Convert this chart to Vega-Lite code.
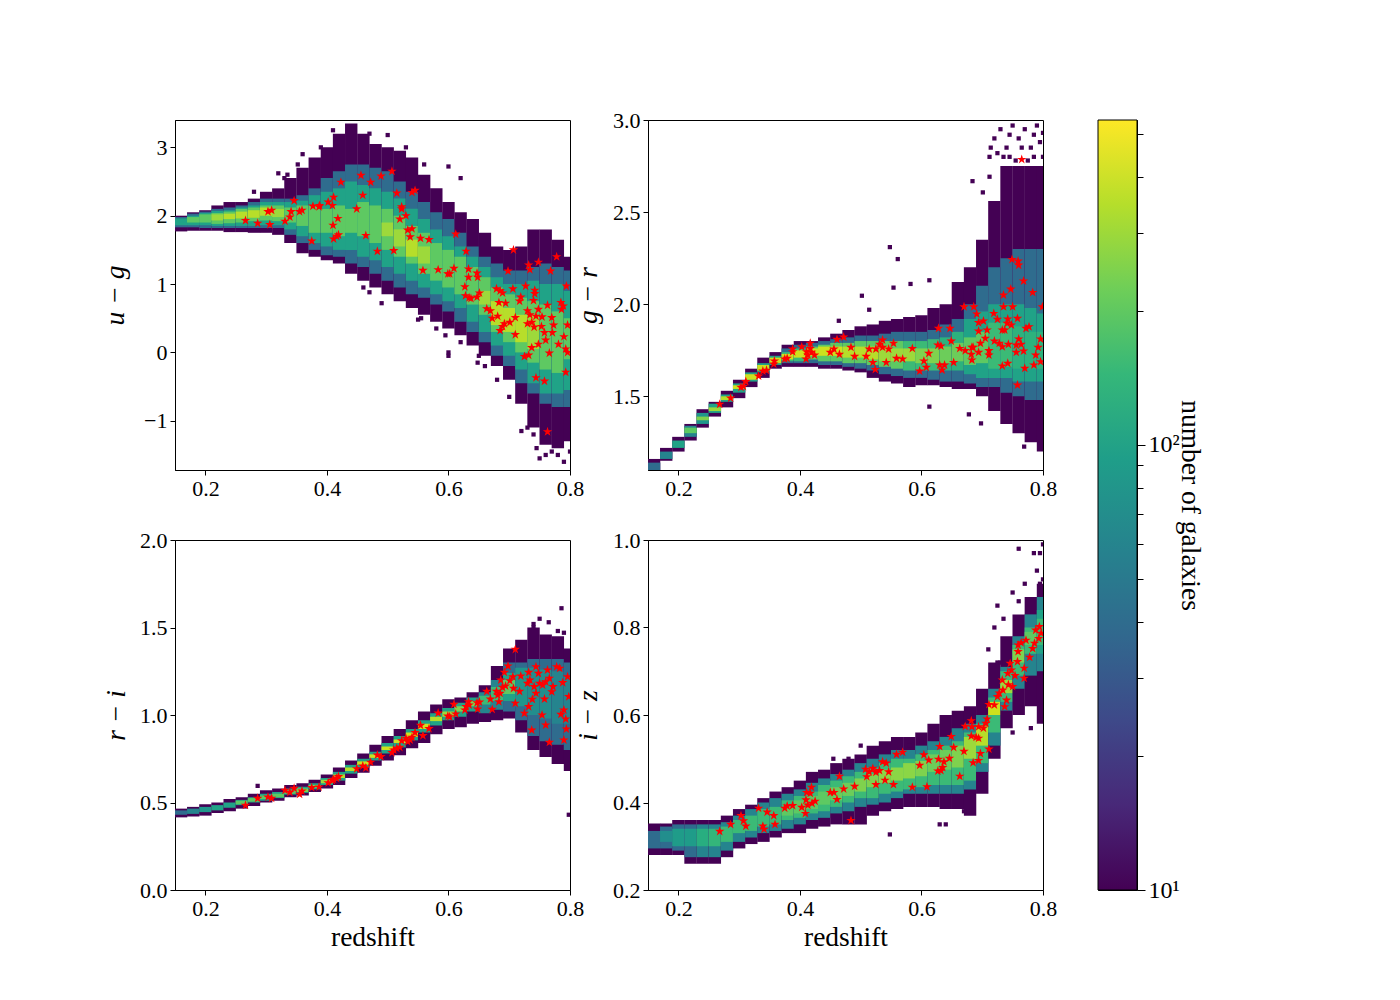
{"$schema":"https://vega.github.io/schema/vega-lite/v6.json","background":"white","padding":{"left":101,"top":108,"right":0,"bottom":0},
"config":{"font":"Liberation Serif","view":{"stroke":"black","strokeWidth":1},"axisX":{"labelFlush":false},"axis":{"grid":false,"domainColor":"black","tickColor":"black","labelColor":"black","titleColor":"black","labelFontSize":22,"titleFontSize":27.5,"titleFontWeight":"normal","tickSize":5,"labelPadding":3}},
"datasets":{
"ugd":[
{"z":0.16,"l":1.77,"h":2.0,"n":10},{"z":0.16,"l":1.83,"h":1.98,"n":40},{"z":0.16,"l":1.86,"h":1.96,"n":100},
{"z":0.18,"l":1.78,"h":2.05,"n":10},{"z":0.18,"l":1.83,"h":2.03,"n":40},{"z":0.18,"l":1.86,"h":2.0,"n":100},{"z":0.18,"l":1.9,"h":1.98,"n":200},
{"z":0.2,"l":1.78,"h":2.08,"n":10},{"z":0.2,"l":1.82,"h":2.06,"n":40},{"z":0.2,"l":1.86,"h":2.04,"n":100},{"z":0.2,"l":1.9,"h":2.02,"n":200},
{"z":0.22,"l":1.78,"h":2.15,"n":10},{"z":0.22,"l":1.82,"h":2.1,"n":40},{"z":0.22,"l":1.85,"h":2.07,"n":100},{"z":0.22,"l":1.88,"h":2.04,"n":200},{"z":0.22,"l":1.93,"h":2.02,"n":300},
{"z":0.24,"l":1.76,"h":2.2,"n":10},{"z":0.24,"l":1.82,"h":2.12,"n":40},{"z":0.24,"l":1.85,"h":2.08,"n":100},{"z":0.24,"l":1.89,"h":2.06,"n":200},{"z":0.24,"l":1.95,"h":2.03,"n":350},
{"z":0.26,"l":1.76,"h":2.2,"n":10},{"z":0.26,"l":1.82,"h":2.15,"n":40},{"z":0.26,"l":1.85,"h":2.12,"n":100},{"z":0.26,"l":1.9,"h":2.1,"n":200},{"z":0.26,"l":1.96,"h":2.06,"n":350},
{"z":0.28,"l":1.75,"h":2.25,"n":10},{"z":0.28,"l":1.82,"h":2.2,"n":40},{"z":0.28,"l":1.85,"h":2.15,"n":100},{"z":0.28,"l":1.92,"h":2.12,"n":200},{"z":0.28,"l":1.97,"h":2.08,"n":350},
{"z":0.3,"l":1.75,"h":2.35,"n":10},{"z":0.3,"l":1.82,"h":2.25,"n":40},{"z":0.3,"l":1.86,"h":2.2,"n":100},{"z":0.3,"l":1.93,"h":2.15,"n":200},{"z":0.3,"l":2.0,"h":2.12,"n":350},
{"z":0.32,"l":1.72,"h":2.4,"n":10},{"z":0.32,"l":1.82,"h":2.25,"n":40},{"z":0.32,"l":1.86,"h":2.2,"n":100},{"z":0.32,"l":1.92,"h":2.15,"n":200},{"z":0.32,"l":1.98,"h":2.1,"n":300},
{"z":0.34,"l":1.6,"h":2.55,"n":10},{"z":0.34,"l":1.72,"h":2.25,"n":40},{"z":0.34,"l":1.8,"h":2.2,"n":100},{"z":0.34,"l":1.9,"h":2.12,"n":200},
{"z":0.36,"l":1.45,"h":2.7,"n":10},{"z":0.36,"l":1.6,"h":2.3,"n":40},{"z":0.36,"l":1.7,"h":2.22,"n":100},{"z":0.36,"l":1.85,"h":2.15,"n":200},
{"z":0.38,"l":1.4,"h":2.85,"n":10},{"z":0.38,"l":1.5,"h":2.4,"n":40},{"z":0.38,"l":1.6,"h":2.3,"n":100},{"z":0.38,"l":1.75,"h":2.15,"n":200},
{"z":0.4,"l":1.35,"h":3.0,"n":10},{"z":0.4,"l":1.42,"h":2.55,"n":40},{"z":0.4,"l":1.55,"h":2.35,"n":100},{"z":0.4,"l":1.75,"h":2.1,"n":200},
{"z":0.42,"l":1.3,"h":3.2,"n":10},{"z":0.42,"l":1.4,"h":2.65,"n":40},{"z":0.42,"l":1.5,"h":2.4,"n":100},{"z":0.42,"l":1.7,"h":2.15,"n":200},
{"z":0.44,"l":1.15,"h":3.35,"n":10},{"z":0.44,"l":1.3,"h":2.75,"n":40},{"z":0.44,"l":1.5,"h":2.5,"n":100},{"z":0.44,"l":1.75,"h":2.1,"n":200},
{"z":0.46,"l":1.05,"h":3.2,"n":10},{"z":0.46,"l":1.25,"h":2.75,"n":40},{"z":0.46,"l":1.4,"h":2.45,"n":100},{"z":0.46,"l":1.7,"h":2.2,"n":200},
{"z":0.48,"l":0.95,"h":3.05,"n":10},{"z":0.48,"l":1.15,"h":2.7,"n":40},{"z":0.48,"l":1.35,"h":2.4,"n":100},{"z":0.48,"l":1.6,"h":2.15,"n":200},
{"z":0.5,"l":0.85,"h":3.0,"n":10},{"z":0.5,"l":1.05,"h":2.65,"n":40},{"z":0.5,"l":1.25,"h":2.35,"n":100},{"z":0.5,"l":1.5,"h":2.1,"n":200},{"z":0.5,"l":1.7,"h":1.9,"n":300},
{"z":0.52,"l":0.75,"h":2.95,"n":10},{"z":0.52,"l":0.95,"h":2.5,"n":40},{"z":0.52,"l":1.15,"h":2.25,"n":100},{"z":0.52,"l":1.4,"h":2.0,"n":200},{"z":0.52,"l":1.55,"h":1.8,"n":300},
{"z":0.54,"l":0.65,"h":2.85,"n":10},{"z":0.54,"l":0.85,"h":2.35,"n":40},{"z":0.54,"l":1.05,"h":2.1,"n":100},{"z":0.54,"l":1.3,"h":1.85,"n":200},{"z":0.54,"l":1.4,"h":1.65,"n":350},
{"z":0.56,"l":0.55,"h":2.6,"n":10},{"z":0.56,"l":0.8,"h":2.2,"n":40},{"z":0.56,"l":0.95,"h":1.95,"n":100},{"z":0.56,"l":1.15,"h":1.75,"n":200},{"z":0.56,"l":1.3,"h":1.55,"n":300},
{"z":0.58,"l":0.45,"h":2.4,"n":10},{"z":0.58,"l":0.7,"h":2.05,"n":40},{"z":0.58,"l":0.85,"h":1.8,"n":100},{"z":0.58,"l":1.05,"h":1.6,"n":200},
{"z":0.6,"l":0.35,"h":2.2,"n":10},{"z":0.6,"l":0.6,"h":1.95,"n":40},{"z":0.6,"l":0.75,"h":1.7,"n":100},{"z":0.6,"l":0.95,"h":1.5,"n":200},
{"z":0.62,"l":0.25,"h":2.05,"n":10},{"z":0.62,"l":0.45,"h":1.75,"n":40},{"z":0.62,"l":0.65,"h":1.55,"n":100},{"z":0.62,"l":0.85,"h":1.4,"n":200},
{"z":0.64,"l":0.1,"h":1.95,"n":10},{"z":0.64,"l":0.3,"h":1.55,"n":40},{"z":0.64,"l":0.45,"h":1.4,"n":100},{"z":0.64,"l":0.7,"h":1.25,"n":200},
{"z":0.66,"l":-0.05,"h":1.75,"n":10},{"z":0.66,"l":0.15,"h":1.4,"n":40},{"z":0.66,"l":0.3,"h":1.25,"n":100},{"z":0.66,"l":0.55,"h":1.1,"n":200},{"z":0.66,"l":0.7,"h":0.9,"n":300},
{"z":0.68,"l":-0.2,"h":1.55,"n":10},{"z":0.68,"l":-0.05,"h":1.3,"n":40},{"z":0.68,"l":0.1,"h":1.1,"n":100},{"z":0.68,"l":0.3,"h":0.95,"n":200},{"z":0.68,"l":0.4,"h":0.75,"n":350},
{"z":0.7,"l":-0.4,"h":1.5,"n":10},{"z":0.7,"l":-0.2,"h":1.2,"n":40},{"z":0.7,"l":-0.05,"h":1.0,"n":100},{"z":0.7,"l":0.15,"h":0.85,"n":200},{"z":0.7,"l":0.3,"h":0.65,"n":350},
{"z":0.72,"l":-0.75,"h":1.55,"n":10},{"z":0.72,"l":-0.45,"h":1.2,"n":40},{"z":0.72,"l":-0.25,"h":1.0,"n":100},{"z":0.72,"l":0.0,"h":0.8,"n":200},{"z":0.72,"l":0.15,"h":0.55,"n":350},
{"z":0.74,"l":-1.1,"h":1.8,"n":10},{"z":0.74,"l":-0.6,"h":1.25,"n":40},{"z":0.74,"l":-0.45,"h":1.05,"n":100},{"z":0.74,"l":-0.15,"h":0.75,"n":200},{"z":0.74,"l":0.05,"h":0.55,"n":300},
{"z":0.76,"l":-1.35,"h":1.8,"n":10},{"z":0.76,"l":-0.75,"h":1.3,"n":40},{"z":0.76,"l":-0.6,"h":1.0,"n":100},{"z":0.76,"l":-0.25,"h":0.7,"n":200},
{"z":0.78,"l":-1.4,"h":1.65,"n":10},{"z":0.78,"l":-0.8,"h":1.25,"n":40},{"z":0.78,"l":-0.6,"h":1.0,"n":100},{"z":0.78,"l":-0.3,"h":0.6,"n":200},
{"z":0.8,"l":-1.3,"h":1.4,"n":10},{"z":0.8,"l":-0.8,"h":1.2,"n":40},{"z":0.8,"l":-0.55,"h":0.9,"n":100},{"z":0.8,"l":-0.1,"h":0.5,"n":200}],
"ugs":[{"z":0.36,"c":2.9},{"z":0.352,"c":2.75},{"z":0.33,"c":2.55},{"z":0.32,"c":2.62},{"z":0.28,"c":2.35},{"z":0.335,"c":2.6},{"z":0.39,"c":3.0},{"z":0.41,"c":3.25},{"z":0.47,"c":3.2},{"z":0.5,"c":3.18},{"z":0.53,"c":3.0},{"z":0.56,"c":2.75},{"z":0.6,"c":2.72},{"z":0.62,"c":2.55},{"z":0.46,"c":0.95},{"z":0.47,"c":0.88},{"z":0.49,"c":0.72},{"z":0.55,"c":0.48},{"z":0.555,"c":0.5},{"z":0.58,"c":0.35},{"z":0.595,"c":0.25},{"z":0.62,"c":0.15},{"z":0.65,"c":-0.05},{"z":0.648,"c":-0.15},{"z":0.6,"c":0.0},{"z":0.6,"c":-0.05},{"z":0.68,"c":-0.4},{"z":0.74,"c":-1.2},{"z":0.745,"c":-1.4},{"z":0.76,"c":-1.5},{"z":0.78,"c":-1.5},{"z":0.8,"c":-1.45},{"z":0.79,"c":-1.6},{"z":0.75,"c":-1.55},{"z":0.77,"c":-1.45},{"z":0.66,"c":-0.2},{"z":0.7,"c":-0.65},{"z":0.73,"c":-1.1},{"z":0.72,"c":-1.15}],
"ugp":[{"z":0.266,"c":1.93},{"z":0.286,"c":1.89},{"z":0.306,"c":1.87},{"z":0.303,"c":2.06},{"z":0.309,"c":2.08},{"z":0.331,"c":1.92},{"z":0.339,"c":1.98},{"z":0.341,"c":2.06},{"z":0.346,"c":2.22},{"z":0.355,"c":2.06},{"z":0.359,"c":2.08},{"z":0.375,"c":1.63},{"z":0.377,"c":2.14},{"z":0.387,"c":2.13},{"z":0.388,"c":2.15},{"z":0.402,"c":2.2},{"z":0.409,"c":2.15},{"z":0.411,"c":2.27},{"z":0.41,"c":1.86},{"z":0.418,"c":1.96},{"z":0.411,"c":1.66},{"z":0.416,"c":1.7},{"z":0.419,"c":1.72},{"z":0.423,"c":2.49},{"z":0.449,"c":2.1},{"z":0.456,"c":2.59},{"z":0.459,"c":2.3},{"z":0.464,"c":1.71},{"z":0.472,"c":2.49},{"z":0.483,"c":1.48},{"z":0.489,"c":2.58},{"z":0.507,"c":2.65},{"z":0.51,"c":1.49},{"z":0.515,"c":2.33},{"z":0.52,"c":1.95},{"z":0.523,"c":2.13},{"z":0.523,"c":2.1},{"z":0.53,"c":2.0},{"z":0.533,"c":1.79},{"z":0.54,"c":1.81},{"z":0.537,"c":1.69},{"z":0.54,"c":2.34},{"z":0.545,"c":2.37},{"z":0.554,"c":1.67},{"z":0.568,"c":1.65},{"z":0.558,"c":1.2},{"z":0.583,"c":1.21},{"z":0.599,"c":1.15},{"z":0.602,"c":1.15},{"z":0.609,"c":1.23},{"z":0.612,"c":1.73},{"z":0.629,"c":1.48},{"z":0.633,"c":1.22},{"z":0.633,"c":1.1},{"z":0.647,"c":1.16},{"z":0.648,"c":1.1},{"z":0.627,"c":0.96},{"z":0.628,"c":0.83},{"z":0.634,"c":0.8},{"z":0.637,"c":0.79},{"z":0.647,"c":0.81},{"z":0.651,"c":0.87},{"z":0.663,"c":0.64},{"z":0.669,"c":0.61},{"z":0.672,"c":0.5},{"z":0.679,"c":0.93},{"z":0.685,"c":0.9},{"z":0.689,"c":0.87},{"z":0.683,"c":0.73},{"z":0.694,"c":0.72},{"z":0.681,"c":0.53},{"z":0.706,"c":0.93},{"z":0.698,"c":1.19},{"z":0.707,"c":1.5},{"z":0.732,"c":1.28},{"z":0.734,"c":1.21},{"z":0.748,"c":1.32},{"z":0.768,"c":1.19},{"z":0.778,"c":1.4},{"z":0.794,"c":0.97},{"z":0.727,"c":0.97},{"z":0.742,"c":0.91},{"z":0.742,"c":0.86},{"z":0.74,"c":0.76},{"z":0.719,"c":0.81},{"z":0.717,"c":0.75},{"z":0.763,"c":0.69},{"z":0.785,"c":0.73},{"z":0.789,"c":0.68},{"z":0.786,"c":0.63},{"z":0.73,"c":0.61},{"z":0.748,"c":0.63},{"z":0.734,"c":0.55},{"z":0.744,"c":0.53},{"z":0.754,"c":0.52},{"z":0.77,"c":0.51},{"z":0.71,"c":0.51},{"z":0.701,"c":0.44},{"z":0.692,"c":0.42},{"z":0.689,"c":0.38},{"z":0.685,"c":0.32},{"z":0.73,"c":0.42},{"z":0.737,"c":0.44},{"z":0.741,"c":0.37},{"z":0.753,"c":0.38},{"z":0.773,"c":0.4},{"z":0.796,"c":0.4},{"z":0.71,"c":0.26},{"z":0.758,"c":0.29},{"z":0.771,"c":0.29},{"z":0.79,"c":0.23},{"z":0.76,"c":0.18},{"z":0.737,"c":0.07},{"z":0.748,"c":0.12},{"z":0.781,"c":0.12},{"z":0.793,"c":0.05},{"z":0.796,"c":0.0},{"z":0.766,"c":-0.01},{"z":0.725,"c":-0.06},{"z":0.732,"c":-0.04},{"z":0.744,"c":-0.37},{"z":0.758,"c":-0.42},{"z":0.793,"c":-0.29},{"z":0.763,"c":-1.16}],
"grd":[
{"z":0.16,"l":1.09,"h":1.16,"n":10},{"z":0.16,"l":1.1,"h":1.14,"n":40},
{"z":0.18,"l":1.15,"h":1.22,"n":10},{"z":0.18,"l":1.16,"h":1.2,"n":60},
{"z":0.2,"l":1.2,"h":1.28,"n":10},{"z":0.2,"l":1.22,"h":1.26,"n":100},
{"z":0.22,"l":1.26,"h":1.35,"n":10},{"z":0.22,"l":1.28,"h":1.34,"n":60},{"z":0.22,"l":1.3,"h":1.33,"n":200},
{"z":0.24,"l":1.33,"h":1.43,"n":10},{"z":0.24,"l":1.35,"h":1.41,"n":80},{"z":0.24,"l":1.37,"h":1.39,"n":250},
{"z":0.26,"l":1.39,"h":1.47,"n":10},{"z":0.26,"l":1.41,"h":1.46,"n":100},{"z":0.26,"l":1.42,"h":1.44,"n":300},
{"z":0.28,"l":1.44,"h":1.53,"n":10},{"z":0.28,"l":1.47,"h":1.51,"n":100},{"z":0.28,"l":1.48,"h":1.5,"n":350},
{"z":0.3,"l":1.49,"h":1.59,"n":10},{"z":0.3,"l":1.52,"h":1.57,"n":100},{"z":0.3,"l":1.54,"h":1.56,"n":400},
{"z":0.32,"l":1.55,"h":1.65,"n":10},{"z":0.32,"l":1.58,"h":1.63,"n":100},{"z":0.32,"l":1.59,"h":1.62,"n":400},
{"z":0.34,"l":1.6,"h":1.71,"n":10},{"z":0.34,"l":1.63,"h":1.68,"n":100},{"z":0.34,"l":1.64,"h":1.67,"n":400},
{"z":0.36,"l":1.65,"h":1.74,"n":10},{"z":0.36,"l":1.67,"h":1.72,"n":100},{"z":0.36,"l":1.68,"h":1.71,"n":400},
{"z":0.38,"l":1.66,"h":1.78,"n":10},{"z":0.38,"l":1.68,"h":1.76,"n":40},{"z":0.38,"l":1.69,"h":1.74,"n":150},{"z":0.38,"l":1.7,"h":1.73,"n":400},
{"z":0.4,"l":1.66,"h":1.8,"n":10},{"z":0.4,"l":1.68,"h":1.78,"n":40},{"z":0.4,"l":1.69,"h":1.76,"n":150},{"z":0.4,"l":1.71,"h":1.75,"n":400},
{"z":0.42,"l":1.66,"h":1.8,"n":10},{"z":0.42,"l":1.68,"h":1.79,"n":40},{"z":0.42,"l":1.7,"h":1.77,"n":200},{"z":0.42,"l":1.72,"h":1.76,"n":400},
{"z":0.44,"l":1.65,"h":1.82,"n":10},{"z":0.44,"l":1.67,"h":1.8,"n":40},{"z":0.44,"l":1.69,"h":1.78,"n":200},{"z":0.44,"l":1.72,"h":1.77,"n":400},
{"z":0.46,"l":1.65,"h":1.84,"n":10},{"z":0.46,"l":1.67,"h":1.81,"n":40},{"z":0.46,"l":1.69,"h":1.79,"n":200},{"z":0.46,"l":1.72,"h":1.77,"n":400},
{"z":0.48,"l":1.64,"h":1.86,"n":10},{"z":0.48,"l":1.66,"h":1.82,"n":40},{"z":0.48,"l":1.68,"h":1.79,"n":200},{"z":0.48,"l":1.71,"h":1.77,"n":350},
{"z":0.5,"l":1.63,"h":1.88,"n":10},{"z":0.5,"l":1.65,"h":1.83,"n":40},{"z":0.5,"l":1.68,"h":1.8,"n":200},{"z":0.5,"l":1.71,"h":1.77,"n":350},
{"z":0.52,"l":1.6,"h":1.89,"n":10},{"z":0.52,"l":1.64,"h":1.83,"n":40},{"z":0.52,"l":1.67,"h":1.8,"n":200},{"z":0.52,"l":1.7,"h":1.77,"n":350},
{"z":0.54,"l":1.58,"h":1.91,"n":10},{"z":0.54,"l":1.62,"h":1.84,"n":40},{"z":0.54,"l":1.66,"h":1.8,"n":200},{"z":0.54,"l":1.69,"h":1.77,"n":300},
{"z":0.56,"l":1.57,"h":1.92,"n":10},{"z":0.56,"l":1.61,"h":1.85,"n":40},{"z":0.56,"l":1.65,"h":1.8,"n":200},{"z":0.56,"l":1.69,"h":1.76,"n":300},
{"z":0.58,"l":1.55,"h":1.93,"n":10},{"z":0.58,"l":1.6,"h":1.85,"n":40},{"z":0.58,"l":1.64,"h":1.8,"n":150},{"z":0.58,"l":1.69,"h":1.76,"n":300},
{"z":0.6,"l":1.56,"h":1.94,"n":10},{"z":0.6,"l":1.6,"h":1.85,"n":40},{"z":0.6,"l":1.64,"h":1.8,"n":150},{"z":0.6,"l":1.68,"h":1.76,"n":250},
{"z":0.62,"l":1.56,"h":1.98,"n":10},{"z":0.62,"l":1.59,"h":1.86,"n":40},{"z":0.62,"l":1.64,"h":1.81,"n":150},{"z":0.62,"l":1.68,"h":1.76,"n":250},
{"z":0.64,"l":1.55,"h":2.0,"n":10},{"z":0.64,"l":1.58,"h":1.89,"n":40},{"z":0.64,"l":1.64,"h":1.82,"n":130},{"z":0.64,"l":1.68,"h":1.77,"n":220},
{"z":0.66,"l":1.54,"h":2.12,"n":10},{"z":0.66,"l":1.58,"h":1.92,"n":40},{"z":0.66,"l":1.64,"h":1.85,"n":130},{"z":0.66,"l":1.69,"h":1.79,"n":220},
{"z":0.68,"l":1.54,"h":2.2,"n":10},{"z":0.68,"l":1.57,"h":2.0,"n":40},{"z":0.68,"l":1.62,"h":1.92,"n":100},{"z":0.68,"l":1.67,"h":1.82,"n":200},
{"z":0.7,"l":1.5,"h":2.35,"n":10},{"z":0.7,"l":1.55,"h":2.1,"n":40},{"z":0.7,"l":1.6,"h":1.96,"n":100},{"z":0.7,"l":1.68,"h":1.85,"n":200},
{"z":0.72,"l":1.42,"h":2.56,"n":10},{"z":0.72,"l":1.55,"h":2.2,"n":40},{"z":0.72,"l":1.6,"h":2.0,"n":100},{"z":0.72,"l":1.65,"h":1.9,"n":150},
{"z":0.74,"l":1.35,"h":2.75,"n":10},{"z":0.74,"l":1.52,"h":2.25,"n":40},{"z":0.74,"l":1.6,"h":2.0,"n":100},{"z":0.74,"l":1.66,"h":1.9,"n":150},
{"z":0.76,"l":1.3,"h":2.75,"n":10},{"z":0.76,"l":1.5,"h":2.3,"n":40},{"z":0.76,"l":1.58,"h":2.0,"n":100},{"z":0.76,"l":1.65,"h":1.88,"n":130},
{"z":0.78,"l":1.25,"h":2.75,"n":10},{"z":0.78,"l":1.48,"h":2.3,"n":40},{"z":0.78,"l":1.58,"h":1.98,"n":100},{"z":0.78,"l":1.65,"h":1.85,"n":130},
{"z":0.8,"l":1.2,"h":2.75,"n":10},{"z":0.8,"l":1.48,"h":2.3,"n":40},{"z":0.8,"l":1.58,"h":1.95,"n":100},{"z":0.8,"l":1.65,"h":1.85,"n":130}],
"grs":[{"z":0.548,"c":2.31},{"z":0.561,"c":2.245},{"z":0.502,"c":2.046},{"z":0.554,"c":2.09},{"z":0.582,"c":2.11},{"z":0.613,"c":2.13},{"z":0.464,"c":1.91},{"z":0.514,"c":1.97},{"z":0.613,"c":1.444},{"z":0.698,"c":1.353},{"z":0.678,"c":1.402},{"z":0.769,"c":1.227},{"z":0.684,"c":2.668},{"z":0.712,"c":2.692},{"z":0.701,"c":2.607},{"z":0.714,"c":2.85},{"z":0.72,"c":2.9},{"z":0.73,"c":2.95},{"z":0.74,"c":2.85},{"z":0.75,"c":2.97},{"z":0.76,"c":2.9},{"z":0.77,"c":2.95},{"z":0.78,"c":2.85},{"z":0.79,"c":2.97},{"z":0.795,"c":2.88},{"z":0.735,"c":2.8},{"z":0.745,"c":2.8},{"z":0.755,"c":2.78},{"z":0.775,"c":2.78},{"z":0.785,"c":2.92},{"z":0.725,"c":2.82},{"z":0.8,"c":2.93},{"z":0.765,"c":2.85},{"z":0.712,"c":2.8},{"z":0.745,"c":2.92},{"z":0.785,"c":2.8},{"z":0.8,"c":2.8}],
"grp":[{"z":0.268,"c":1.457},{"z":0.286,"c":1.49},{"z":0.303,"c":1.549},{"z":0.307,"c":1.554},{"z":0.311,"c":1.58},{"z":0.332,"c":1.61},{"z":0.339,"c":1.637},{"z":0.345,"c":1.641},{"z":0.357,"c":1.675},{"z":0.358,"c":1.692},{"z":0.375,"c":1.703},{"z":0.379,"c":1.706},{"z":0.388,"c":1.742},{"z":0.388,"c":1.757},{"z":0.403,"c":1.769},{"z":0.41,"c":1.703},{"z":0.411,"c":1.742},{"z":0.417,"c":1.788},{"z":0.417,"c":1.76},{"z":0.413,"c":1.724},{"z":0.419,"c":1.739},{"z":0.424,"c":1.724},{"z":0.45,"c":1.739},{"z":0.456,"c":1.757},{"z":0.461,"c":1.809},{"z":0.465,"c":1.728},{"z":0.472,"c":1.822},{"z":0.484,"c":1.766},{"z":0.49,"c":1.717},{"z":0.509,"c":1.717},{"z":0.514,"c":1.757},{"z":0.52,"c":1.684},{"z":0.524,"c":1.646},{"z":0.525,"c":1.757},{"z":0.531,"c":1.782},{"z":0.536,"c":1.806},{"z":0.536,"c":1.766},{"z":0.542,"c":1.684},{"z":0.546,"c":1.757},{"z":0.554,"c":1.788},{"z":0.559,"c":1.706},{"z":0.569,"c":1.703},{"z":0.585,"c":1.76},{"z":0.597,"c":1.637},{"z":0.604,"c":1.692},{"z":0.608,"c":1.657},{"z":0.612,"c":1.733},{"z":0.627,"c":1.778},{"z":0.632,"c":1.773},{"z":0.628,"c":1.869},{"z":0.647,"c":1.869},{"z":0.649,"c":1.8},{"z":0.63,"c":1.67},{"z":0.634,"c":1.643},{"z":0.638,"c":1.67},{"z":0.653,"c":1.684},{"z":0.663,"c":1.76},{"z":0.672,"c":1.748},{"z":0.67,"c":1.986},{"z":0.686,"c":1.986},{"z":0.691,"c":1.947},{"z":0.694,"c":1.9},{"z":0.702,"c":1.909},{"z":0.694,"c":1.854},{"z":0.708,"c":1.86},{"z":0.705,"c":1.815},{"z":0.697,"c":1.788},{"z":0.683,"c":1.766},{"z":0.685,"c":1.766},{"z":0.682,"c":1.728},{"z":0.683,"c":1.697},{"z":0.694,"c":1.739},{"z":0.711,"c":1.748},{"z":0.711,"c":1.724},{"z":0.719,"c":1.95},{"z":0.725,"c":1.918},{"z":0.735,"c":1.986},{"z":0.735,"c":2.05},{"z":0.747,"c":2.082},{"z":0.75,"c":1.986},{"z":0.742,"c":1.92},{"z":0.741,"c":1.896},{"z":0.748,"c":1.887},{"z":0.758,"c":1.923},{"z":0.733,"c":1.86},{"z":0.737,"c":1.86},{"z":0.72,"c":1.8},{"z":0.728,"c":1.788},{"z":0.733,"c":1.769},{"z":0.743,"c":1.782},{"z":0.756,"c":1.778},{"z":0.76,"c":1.811},{"z":0.764,"c":1.782},{"z":0.756,"c":1.739},{"z":0.768,"c":1.746},{"z":0.733,"c":1.665},{"z":0.742,"c":1.679},{"z":0.77,"c":1.652},{"z":0.758,"c":1.561},{"z":0.749,"c":2.243},{"z":0.759,"c":2.234},{"z":0.76,"c":2.212},{"z":0.768,"c":2.126},{"z":0.783,"c":2.064},{"z":0.772,"c":1.869},{"z":0.777,"c":1.878},{"z":0.796,"c":1.811},{"z":0.799,"c":1.986},{"z":0.792,"c":1.766},{"z":0.788,"c":1.724},{"z":0.796,"c":1.688},{"z":0.785,"c":1.67},{"z":0.765,"c":2.786}],
"rid":[
{"z":0.16,"l":0.415,"h":0.465,"n":10},{"z":0.16,"l":0.43,"h":0.455,"n":40},
{"z":0.18,"l":0.42,"h":0.475,"n":10},{"z":0.18,"l":0.435,"h":0.465,"n":60},
{"z":0.2,"l":0.425,"h":0.49,"n":10},{"z":0.2,"l":0.445,"h":0.475,"n":80},
{"z":0.22,"l":0.44,"h":0.5,"n":10},{"z":0.22,"l":0.455,"h":0.485,"n":100},
{"z":0.24,"l":0.45,"h":0.52,"n":10},{"z":0.24,"l":0.47,"h":0.5,"n":100},
{"z":0.26,"l":0.465,"h":0.53,"n":10},{"z":0.26,"l":0.485,"h":0.515,"n":100},{"z":0.26,"l":0.49,"h":0.51,"n":200},
{"z":0.28,"l":0.48,"h":0.55,"n":10},{"z":0.28,"l":0.5,"h":0.53,"n":100},{"z":0.28,"l":0.505,"h":0.525,"n":200},
{"z":0.3,"l":0.5,"h":0.57,"n":10},{"z":0.3,"l":0.51,"h":0.55,"n":100},{"z":0.3,"l":0.52,"h":0.54,"n":200},
{"z":0.32,"l":0.51,"h":0.58,"n":10},{"z":0.32,"l":0.525,"h":0.56,"n":100},{"z":0.32,"l":0.53,"h":0.55,"n":200},
{"z":0.34,"l":0.53,"h":0.6,"n":10},{"z":0.34,"l":0.545,"h":0.58,"n":100},{"z":0.34,"l":0.55,"h":0.57,"n":200},
{"z":0.36,"l":0.54,"h":0.61,"n":10},{"z":0.36,"l":0.555,"h":0.59,"n":100},{"z":0.36,"l":0.56,"h":0.58,"n":250},
{"z":0.38,"l":0.56,"h":0.63,"n":10},{"z":0.38,"l":0.575,"h":0.61,"n":100},{"z":0.38,"l":0.585,"h":0.6,"n":250},
{"z":0.4,"l":0.58,"h":0.66,"n":10},{"z":0.4,"l":0.6,"h":0.64,"n":100},{"z":0.4,"l":0.61,"h":0.63,"n":300},
{"z":0.42,"l":0.6,"h":0.7,"n":10},{"z":0.42,"l":0.625,"h":0.675,"n":100},{"z":0.42,"l":0.64,"h":0.66,"n":350},
{"z":0.44,"l":0.64,"h":0.74,"n":10},{"z":0.44,"l":0.665,"h":0.715,"n":100},{"z":0.44,"l":0.68,"h":0.7,"n":350},
{"z":0.46,"l":0.67,"h":0.78,"n":10},{"z":0.46,"l":0.7,"h":0.75,"n":100},{"z":0.46,"l":0.715,"h":0.735,"n":400},
{"z":0.48,"l":0.71,"h":0.83,"n":10},{"z":0.48,"l":0.74,"h":0.79,"n":100},{"z":0.48,"l":0.755,"h":0.775,"n":400},
{"z":0.5,"l":0.74,"h":0.88,"n":10},{"z":0.5,"l":0.78,"h":0.84,"n":100},{"z":0.5,"l":0.8,"h":0.82,"n":400},
{"z":0.52,"l":0.77,"h":0.92,"n":10},{"z":0.52,"l":0.815,"h":0.88,"n":100},{"z":0.52,"l":0.84,"h":0.86,"n":400},
{"z":0.54,"l":0.81,"h":0.97,"n":10},{"z":0.54,"l":0.855,"h":0.92,"n":100},{"z":0.54,"l":0.875,"h":0.9,"n":400},
{"z":0.56,"l":0.84,"h":1.02,"n":10},{"z":0.56,"l":0.9,"h":0.97,"n":100},{"z":0.56,"l":0.92,"h":0.95,"n":400},
{"z":0.58,"l":0.89,"h":1.06,"n":10},{"z":0.58,"l":0.94,"h":1.01,"n":100},{"z":0.58,"l":0.965,"h":0.99,"n":350},
{"z":0.6,"l":0.92,"h":1.09,"n":10},{"z":0.6,"l":0.97,"h":1.04,"n":100},{"z":0.6,"l":0.99,"h":1.02,"n":300},
{"z":0.62,"l":0.93,"h":1.1,"n":10},{"z":0.62,"l":0.99,"h":1.07,"n":100},{"z":0.62,"l":1.02,"h":1.05,"n":250},
{"z":0.64,"l":0.95,"h":1.13,"n":10},{"z":0.64,"l":1.02,"h":1.1,"n":100},{"z":0.64,"l":1.05,"h":1.08,"n":250},
{"z":0.66,"l":0.96,"h":1.17,"n":10},{"z":0.66,"l":1.01,"h":1.13,"n":60},{"z":0.66,"l":1.06,"h":1.11,"n":150},
{"z":0.68,"l":0.97,"h":1.28,"n":10},{"z":0.68,"l":1.03,"h":1.2,"n":60},{"z":0.68,"l":1.08,"h":1.16,"n":150},
{"z":0.7,"l":0.98,"h":1.38,"n":10},{"z":0.7,"l":1.02,"h":1.3,"n":40},{"z":0.7,"l":1.08,"h":1.24,"n":100},{"z":0.7,"l":1.12,"h":1.2,"n":200},
{"z":0.72,"l":0.9,"h":1.43,"n":10},{"z":0.72,"l":0.97,"h":1.3,"n":40},{"z":0.72,"l":1.05,"h":1.27,"n":80},
{"z":0.74,"l":0.8,"h":1.5,"n":10},{"z":0.74,"l":0.88,"h":1.32,"n":40},{"z":0.74,"l":1.0,"h":1.27,"n":70},
{"z":0.76,"l":0.76,"h":1.46,"n":10},{"z":0.76,"l":0.85,"h":1.32,"n":40},{"z":0.76,"l":0.98,"h":1.26,"n":70},
{"z":0.78,"l":0.72,"h":1.45,"n":10},{"z":0.78,"l":0.83,"h":1.32,"n":40},{"z":0.78,"l":0.95,"h":1.25,"n":60},
{"z":0.8,"l":0.68,"h":1.38,"n":10},{"z":0.8,"l":0.8,"h":1.3,"n":40},{"z":0.8,"l":0.95,"h":1.22,"n":60}],
"ris":[{"z":0.798,"c":0.43},{"z":0.786,"c":1.61},{"z":0.286,"c":0.595},{"z":0.75,"c":1.55},{"z":0.765,"c":1.53},{"z":0.74,"c":1.52},{"z":0.78,"c":1.48},{"z":0.79,"c":1.47},{"z":0.74,"c":1.5}],
"rip":[{"z":0.266,"c":0.484},{"z":0.286,"c":0.524},{"z":0.303,"c":0.531},{"z":0.309,"c":0.524},{"z":0.331,"c":0.57},{"z":0.339,"c":0.558},{"z":0.346,"c":0.581},{"z":0.355,"c":0.547},{"z":0.359,"c":0.566},{"z":0.375,"c":0.585},{"z":0.387,"c":0.589},{"z":0.402,"c":0.613},{"z":0.409,"c":0.625},{"z":0.411,"c":0.632},{"z":0.416,"c":0.638},{"z":0.419,"c":0.648},{"z":0.449,"c":0.693},{"z":0.459,"c":0.709},{"z":0.464,"c":0.697},{"z":0.472,"c":0.73},{"z":0.483,"c":0.771},{"z":0.489,"c":0.762},{"z":0.507,"c":0.785},{"z":0.51,"c":0.8},{"z":0.515,"c":0.81},{"z":0.52,"c":0.815},{"z":0.523,"c":0.853},{"z":0.53,"c":0.867},{"z":0.533,"c":0.848},{"z":0.54,"c":0.872},{"z":0.537,"c":0.857},{"z":0.545,"c":0.9},{"z":0.554,"c":0.941},{"z":0.558,"c":0.882},{"z":0.568,"c":0.922},{"z":0.583,"c":1.011},{"z":0.599,"c":0.994},{"z":0.602,"c":0.99},{"z":0.609,"c":1.061},{"z":0.612,"c":1.006},{"z":0.627,"c":1.029},{"z":0.629,"c":1.048},{"z":0.633,"c":1.076},{"z":0.634,"c":1.057},{"z":0.647,"c":1.07},{"z":0.648,"c":1.034},{"z":0.651,"c":1.074},{"z":0.663,"c":1.135},{"z":0.669,"c":1.091},{"z":0.672,"c":1.032},{"z":0.679,"c":1.135},{"z":0.685,"c":1.124},{"z":0.683,"c":1.076},{"z":0.689,"c":1.158},{"z":0.694,"c":1.166},{"z":0.681,"c":1.114},{"z":0.706,"c":1.219},{"z":0.698,"c":1.28},{"z":0.692,"c":1.244},{"z":0.686,"c":1.2},{"z":0.701,"c":1.196},{"z":0.71,"c":1.375},{"z":0.71,"c":1.067},{"z":0.707,"c":1.152},{"z":0.719,"c":1.223},{"z":0.717,"c":1.135},{"z":0.732,"c":1.244},{"z":0.734,"c":1.2},{"z":0.73,"c":1.181},{"z":0.725,"c":1.01},{"z":0.732,"c":1.048},{"z":0.737,"c":0.914},{"z":0.744,"c":1.276},{"z":0.748,"c":1.238},{"z":0.741,"c":1.162},{"z":0.744,"c":1.124},{"z":0.738,"c":1.09},{"z":0.758,"c":1.091},{"z":0.754,"c":1.0},{"z":0.76,"c":0.943},{"z":0.766,"c":0.844},{"z":0.763,"c":1.257},{"z":0.76,"c":1.19},{"z":0.77,"c":1.133},{"z":0.778,"c":1.276},{"z":0.783,"c":1.267},{"z":0.79,"c":0.857},{"z":0.785,"c":1.004},{"z":0.79,"c":1.029},{"z":0.793,"c":0.977},{"z":0.794,"c":0.92},{"z":0.796,"c":1.219},{"z":0.788,"c":1.185},{"z":0.798,"c":1.105},{"z":0.755,"c":1.171},{"z":0.772,"c":1.162},{"z":0.766,"c":1.21},{"z":0.75,"c":1.181}],
"izd":[
{"z":0.16,"l":0.28,"h":0.352,"n":10},{"z":0.16,"l":0.295,"h":0.335,"n":40},
{"z":0.18,"l":0.28,"h":0.352,"n":10},{"z":0.18,"l":0.295,"h":0.345,"n":40},{"z":0.18,"l":0.31,"h":0.335,"n":70},
{"z":0.2,"l":0.28,"h":0.36,"n":10},{"z":0.2,"l":0.29,"h":0.35,"n":40},{"z":0.2,"l":0.3,"h":0.34,"n":90},
{"z":0.22,"l":0.26,"h":0.36,"n":10},{"z":0.22,"l":0.275,"h":0.35,"n":40},{"z":0.22,"l":0.3,"h":0.34,"n":90},
{"z":0.24,"l":0.26,"h":0.36,"n":10},{"z":0.24,"l":0.275,"h":0.35,"n":60},{"z":0.24,"l":0.3,"h":0.34,"n":120},
{"z":0.26,"l":0.26,"h":0.36,"n":10},{"z":0.26,"l":0.275,"h":0.35,"n":60},{"z":0.26,"l":0.3,"h":0.34,"n":140},
{"z":0.28,"l":0.275,"h":0.37,"n":10},{"z":0.28,"l":0.29,"h":0.355,"n":60},{"z":0.28,"l":0.31,"h":0.345,"n":150},
{"z":0.3,"l":0.295,"h":0.385,"n":10},{"z":0.3,"l":0.31,"h":0.37,"n":60},{"z":0.3,"l":0.33,"h":0.36,"n":150},
{"z":0.32,"l":0.305,"h":0.395,"n":10},{"z":0.32,"l":0.32,"h":0.385,"n":60},{"z":0.32,"l":0.335,"h":0.37,"n":150},
{"z":0.34,"l":0.31,"h":0.41,"n":10},{"z":0.34,"l":0.33,"h":0.4,"n":60},{"z":0.34,"l":0.345,"h":0.385,"n":150},
{"z":0.36,"l":0.32,"h":0.425,"n":10},{"z":0.36,"l":0.335,"h":0.41,"n":60},{"z":0.36,"l":0.35,"h":0.39,"n":150},
{"z":0.38,"l":0.33,"h":0.435,"n":10},{"z":0.38,"l":0.34,"h":0.42,"n":60},{"z":0.38,"l":0.36,"h":0.405,"n":150},{"z":0.38,"l":0.37,"h":0.39,"n":200},
{"z":0.4,"l":0.33,"h":0.45,"n":10},{"z":0.4,"l":0.35,"h":0.43,"n":60},{"z":0.4,"l":0.365,"h":0.415,"n":150},{"z":0.4,"l":0.375,"h":0.405,"n":200},
{"z":0.42,"l":0.34,"h":0.47,"n":10},{"z":0.42,"l":0.36,"h":0.445,"n":60},{"z":0.42,"l":0.375,"h":0.425,"n":150},{"z":0.42,"l":0.385,"h":0.415,"n":200},
{"z":0.44,"l":0.345,"h":0.475,"n":10},{"z":0.44,"l":0.365,"h":0.455,"n":60},{"z":0.44,"l":0.38,"h":0.44,"n":150},{"z":0.44,"l":0.395,"h":0.425,"n":200},
{"z":0.46,"l":0.35,"h":0.49,"n":10},{"z":0.46,"l":0.375,"h":0.465,"n":60},{"z":0.46,"l":0.39,"h":0.45,"n":150},{"z":0.46,"l":0.405,"h":0.435,"n":220},
{"z":0.48,"l":0.35,"h":0.5,"n":10},{"z":0.48,"l":0.38,"h":0.475,"n":60},{"z":0.48,"l":0.4,"h":0.46,"n":150},{"z":0.48,"l":0.415,"h":0.445,"n":220},
{"z":0.5,"l":0.35,"h":0.51,"n":10},{"z":0.5,"l":0.39,"h":0.49,"n":60},{"z":0.5,"l":0.41,"h":0.47,"n":150},{"z":0.5,"l":0.425,"h":0.455,"n":250},
{"z":0.52,"l":0.37,"h":0.53,"n":10},{"z":0.52,"l":0.395,"h":0.5,"n":60},{"z":0.52,"l":0.41,"h":0.48,"n":150},{"z":0.52,"l":0.435,"h":0.465,"n":250},
{"z":0.54,"l":0.38,"h":0.54,"n":10},{"z":0.54,"l":0.4,"h":0.51,"n":60},{"z":0.54,"l":0.42,"h":0.49,"n":150},{"z":0.54,"l":0.445,"h":0.475,"n":270},
{"z":0.56,"l":0.385,"h":0.55,"n":10},{"z":0.56,"l":0.41,"h":0.52,"n":60},{"z":0.56,"l":0.425,"h":0.5,"n":150},{"z":0.56,"l":0.45,"h":0.48,"n":270},
{"z":0.58,"l":0.39,"h":0.55,"n":10},{"z":0.58,"l":0.42,"h":0.52,"n":60},{"z":0.58,"l":0.43,"h":0.5,"n":150},{"z":0.58,"l":0.455,"h":0.49,"n":270},
{"z":0.6,"l":0.39,"h":0.56,"n":10},{"z":0.6,"l":0.42,"h":0.53,"n":60},{"z":0.6,"l":0.435,"h":0.51,"n":150},{"z":0.6,"l":0.46,"h":0.495,"n":250},
{"z":0.62,"l":0.39,"h":0.58,"n":10},{"z":0.62,"l":0.42,"h":0.54,"n":60},{"z":0.62,"l":0.44,"h":0.52,"n":150},{"z":0.62,"l":0.47,"h":0.51,"n":220},
{"z":0.64,"l":0.385,"h":0.6,"n":10},{"z":0.64,"l":0.42,"h":0.55,"n":60},{"z":0.64,"l":0.44,"h":0.53,"n":150},{"z":0.64,"l":0.475,"h":0.52,"n":220},
{"z":0.66,"l":0.385,"h":0.61,"n":10},{"z":0.66,"l":0.42,"h":0.57,"n":60},{"z":0.66,"l":0.44,"h":0.54,"n":150},{"z":0.66,"l":0.48,"h":0.53,"n":250},
{"z":0.68,"l":0.37,"h":0.62,"n":10},{"z":0.68,"l":0.43,"h":0.58,"n":60},{"z":0.68,"l":0.45,"h":0.56,"n":150},{"z":0.68,"l":0.5,"h":0.55,"n":300},
{"z":0.7,"l":0.42,"h":0.66,"n":10},{"z":0.7,"l":0.47,"h":0.6,"n":60},{"z":0.7,"l":0.49,"h":0.58,"n":150},{"z":0.7,"l":0.53,"h":0.575,"n":350},
{"z":0.72,"l":0.5,"h":0.72,"n":10},{"z":0.72,"l":0.53,"h":0.66,"n":60},{"z":0.72,"l":0.56,"h":0.64,"n":150},{"z":0.72,"l":0.6,"h":0.63,"n":400},
{"z":0.74,"l":0.57,"h":0.78,"n":10},{"z":0.74,"l":0.61,"h":0.71,"n":60},{"z":0.74,"l":0.63,"h":0.7,"n":150},{"z":0.74,"l":0.65,"h":0.68,"n":300},
{"z":0.76,"l":0.6,"h":0.83,"n":10},{"z":0.76,"l":0.66,"h":0.78,"n":60},{"z":0.76,"l":0.69,"h":0.76,"n":150},{"z":0.76,"l":0.72,"h":0.75,"n":250},
{"z":0.78,"l":0.62,"h":0.87,"n":10},{"z":0.78,"l":0.69,"h":0.83,"n":60},{"z":0.78,"l":0.74,"h":0.8,"n":150},{"z":0.78,"l":0.76,"h":0.79,"n":200},
{"z":0.8,"l":0.58,"h":0.9,"n":10},{"z":0.8,"l":0.7,"h":0.87,"n":60},{"z":0.8,"l":0.74,"h":0.84,"n":100},{"z":0.8,"l":0.76,"h":0.82,"n":150}],
"izs":[{"z":0.8,"c":0.99},{"z":0.795,"c":0.97},{"z":0.79,"c":0.93},{"z":0.785,"c":0.97},{"z":0.76,"c":0.98},{"z":0.795,"c":0.9},{"z":0.8,"c":0.91},{"z":0.77,"c":0.9},{"z":0.75,"c":0.88},{"z":0.76,"c":0.86},{"z":0.725,"c":0.72},{"z":0.73,"c":0.72},{"z":0.71,"c":0.75},{"z":0.735,"c":0.82},{"z":0.72,"c":0.8},{"z":0.725,"c":0.85},{"z":0.6,"c":0.54},{"z":0.58,"c":0.53},{"z":0.5,"c":0.53},{"z":0.48,"c":0.5},{"z":0.455,"c":0.5},{"z":0.63,"c":0.35},{"z":0.64,"c":0.35},{"z":0.548,"c":0.327},{"z":0.67,"c":0.38},{"z":0.75,"c":0.56},{"z":0.78,"c":0.57},{"z":0.8,"c":0.59}],
"izp":[{"z":0.268,"c":0.334},{"z":0.286,"c":0.35},{"z":0.303,"c":0.37},{"z":0.307,"c":0.358},{"z":0.311,"c":0.346},{"z":0.332,"c":0.387},{"z":0.346,"c":0.378},{"z":0.339,"c":0.346},{"z":0.341,"c":0.339},{"z":0.357,"c":0.37},{"z":0.359,"c":0.35},{"z":0.375,"c":0.387},{"z":0.379,"c":0.392},{"z":0.388,"c":0.393},{"z":0.403,"c":0.389},{"z":0.409,"c":0.375},{"z":0.41,"c":0.406},{"z":0.411,"c":0.423},{"z":0.419,"c":0.435},{"z":0.417,"c":0.421},{"z":0.413,"c":0.394},{"z":0.42,"c":0.398},{"z":0.425,"c":0.403},{"z":0.45,"c":0.423},{"z":0.456,"c":0.423},{"z":0.461,"c":0.407},{"z":0.465,"c":0.46},{"z":0.472,"c":0.431},{"z":0.484,"c":0.359},{"z":0.49,"c":0.437},{"z":0.508,"c":0.476},{"z":0.51,"c":0.459},{"z":0.514,"c":0.47},{"z":0.52,"c":0.478},{"z":0.525,"c":0.441},{"z":0.525,"c":0.469},{"z":0.531,"c":0.473},{"z":0.536,"c":0.493},{"z":0.542,"c":0.49},{"z":0.54,"c":0.451},{"z":0.546,"c":0.47},{"z":0.554,"c":0.441},{"z":0.559,"c":0.51},{"z":0.569,"c":0.515},{"z":0.585,"c":0.435},{"z":0.597,"c":0.485},{"z":0.604,"c":0.509},{"z":0.609,"c":0.436},{"z":0.612,"c":0.497},{"z":0.627,"c":0.472},{"z":0.628,"c":0.499},{"z":0.63,"c":0.528},{"z":0.632,"c":0.473},{"z":0.635,"c":0.48},{"z":0.637,"c":0.493},{"z":0.646,"c":0.501},{"z":0.649,"c":0.551},{"z":0.653,"c":0.526},{"z":0.663,"c":0.46},{"z":0.67,"c":0.517},{"z":0.672,"c":0.574},{"z":0.682,"c":0.587},{"z":0.683,"c":0.573},{"z":0.682,"c":0.552},{"z":0.685,"c":0.491},{"z":0.69,"c":0.549},{"z":0.694,"c":0.547},{"z":0.694,"c":0.496},{"z":0.697,"c":0.512},{"z":0.694,"c":0.573},{"z":0.702,"c":0.57},{"z":0.706,"c":0.581},{"z":0.708,"c":0.591},{"z":0.711,"c":0.522},{"z":0.711,"c":0.624},{"z":0.72,"c":0.623},{"z":0.725,"c":0.642},{"z":0.728,"c":0.65},{"z":0.733,"c":0.68},{"z":0.734,"c":0.657},{"z":0.737,"c":0.619},{"z":0.74,"c":0.634},{"z":0.742,"c":0.695},{"z":0.743,"c":0.669},{"z":0.746,"c":0.718},{"z":0.75,"c":0.665},{"z":0.748,"c":0.703},{"z":0.754,"c":0.69},{"z":0.758,"c":0.722},{"z":0.759,"c":0.745},{"z":0.759,"c":0.76},{"z":0.764,"c":0.765},{"z":0.769,"c":0.684},{"z":0.769,"c":0.707},{"z":0.772,"c":0.771},{"z":0.778,"c":0.732},{"z":0.783,"c":0.752},{"z":0.786,"c":0.764},{"z":0.788,"c":0.794},{"z":0.793,"c":0.775},{"z":0.794,"c":0.802},{"z":0.797,"c":0.787}],
"bar":[{"a":10,"b":537}]
},
"hconcat":[{"concat":[
{"width":395,"height":350,"layer":[{"data":{"name":"ugd"},"mark":{"type":"bar","width":12.4,"clip":true},"encoding":{"x":{"field":"z","type":"quantitative","scale":{"domain":[0.15,0.8],"nice":false,"padding":0},"axis":{"values":[0.2,0.4,0.6,0.8],"format":".1f","title":null}},"y":{"field":"l","type":"quantitative","scale":{"domain":[-1.72,3.4],"nice":false},"axis":{"values":[-1,0,1,2,3],"format":"d","title":"u − g","titleFontStyle":"italic","titlePadding":14}},"y2":{"field":"h"},"color":{"field":"n","type":"quantitative","legend":null,"scale":{"type":"log","domain":[10,537],"scheme":"viridis"}}}},
{"data":{"name":"ugs"},"mark":{"type":"square","size":18,"color":"#440154","opacity":1,"clip":true},"encoding":{"x":{"field":"z","type":"quantitative"},"y":{"field":"c","type":"quantitative"}}},
{"data":{"name":"ugp"},"mark":{"type":"point","shape":"M0,-1L0.225,-0.309L0.951,-0.309L0.363,0.118L0.588,0.809L0,0.382L-0.588,0.809L-0.363,0.118L-0.951,-0.309L-0.225,-0.309Z","filled":true,"color":"#ff0000","opacity":1,"size":100,"clip":true},"encoding":{"x":{"field":"z","type":"quantitative"},"y":{"field":"c","type":"quantitative"}}}]},
{"width":395,"height":350,"layer":[{"data":{"name":"grd"},"mark":{"type":"bar","width":12.4,"clip":true},"encoding":{"x":{"field":"z","type":"quantitative","scale":{"domain":[0.15,0.8],"nice":false,"padding":0},"axis":{"values":[0.2,0.4,0.6,0.8],"format":".1f","title":null}},"y":{"field":"l","type":"quantitative","scale":{"domain":[1.1,3],"nice":false},"axis":{"values":[1.5,2,2.5,3],"format":".1f","title":"g − r","titleFontStyle":"italic","titlePadding":10}},"y2":{"field":"h"},"color":{"field":"n","type":"quantitative","legend":null,"scale":{"type":"log","domain":[10,537],"scheme":"viridis"}}}},
{"data":{"name":"grs"},"mark":{"type":"square","size":18,"color":"#440154","opacity":1,"clip":true},"encoding":{"x":{"field":"z","type":"quantitative"},"y":{"field":"c","type":"quantitative"}}},
{"data":{"name":"grp"},"mark":{"type":"point","shape":"M0,-1L0.225,-0.309L0.951,-0.309L0.363,0.118L0.588,0.809L0,0.382L-0.588,0.809L-0.363,0.118L-0.951,-0.309L-0.225,-0.309Z","filled":true,"color":"#ff0000","opacity":1,"size":100,"clip":true},"encoding":{"x":{"field":"z","type":"quantitative"},"y":{"field":"c","type":"quantitative"}}}]},
{"width":395,"height":350,"layer":[{"data":{"name":"rid"},"mark":{"type":"bar","width":12.4,"clip":true},"encoding":{"x":{"field":"z","type":"quantitative","scale":{"domain":[0.15,0.8],"nice":false,"padding":0},"axis":{"values":[0.2,0.4,0.6,0.8],"format":".1f","title":"redshift"}},"y":{"field":"l","type":"quantitative","scale":{"domain":[0,2],"nice":false},"axis":{"values":[0,0.5,1,1.5,2],"format":".1f","title":"r − i","titleFontStyle":"italic","titlePadding":9}},"y2":{"field":"h"},"color":{"field":"n","type":"quantitative","legend":null,"scale":{"type":"log","domain":[10,537],"scheme":"viridis"}}}},
{"data":{"name":"ris"},"mark":{"type":"square","size":18,"color":"#440154","opacity":1,"clip":true},"encoding":{"x":{"field":"z","type":"quantitative"},"y":{"field":"c","type":"quantitative"}}},
{"data":{"name":"rip"},"mark":{"type":"point","shape":"M0,-1L0.225,-0.309L0.951,-0.309L0.363,0.118L0.588,0.809L0,0.382L-0.588,0.809L-0.363,0.118L-0.951,-0.309L-0.225,-0.309Z","filled":true,"color":"#ff0000","opacity":1,"size":100,"clip":true},"encoding":{"x":{"field":"z","type":"quantitative"},"y":{"field":"c","type":"quantitative"}}}]},
{"width":395,"height":350,"layer":[{"data":{"name":"izd"},"mark":{"type":"bar","width":12.4,"clip":true},"encoding":{"x":{"field":"z","type":"quantitative","scale":{"domain":[0.15,0.8],"nice":false,"padding":0},"axis":{"values":[0.2,0.4,0.6,0.8],"format":".1f","title":"redshift"}},"y":{"field":"l","type":"quantitative","scale":{"domain":[0.2,1],"nice":false},"axis":{"values":[0.2,0.4,0.6,0.8,1],"format":".1f","title":"i − z","titleFontStyle":"italic","titlePadding":10}},"y2":{"field":"h"},"color":{"field":"n","type":"quantitative","legend":null,"scale":{"type":"log","domain":[10,537],"scheme":"viridis"}}}},
{"data":{"name":"izs"},"mark":{"type":"square","size":18,"color":"#440154","opacity":1,"clip":true},"encoding":{"x":{"field":"z","type":"quantitative"},"y":{"field":"c","type":"quantitative"}}},
{"data":{"name":"izp"},"mark":{"type":"point","shape":"M0,-1L0.225,-0.309L0.951,-0.309L0.363,0.118L0.588,0.809L0,0.382L-0.588,0.809L-0.363,0.118L-0.951,-0.309L-0.225,-0.309Z","filled":true,"color":"#ff0000","opacity":1,"size":100,"clip":true},"encoding":{"x":{"field":"z","type":"quantitative"},"y":{"field":"c","type":"quantitative"}}}]}
],"columns":2,"spacing":{"row":70,"column":78},"bounds":"flush"},
{"width":39,"height":770,"data":{"name":"bar"},"mark":{"type":"rect","stroke":"black","strokeWidth":1,"fill":{"gradient":"linear","x1":0,"y1":1,"x2":0,"y2":0,"stops":[{"offset":0,"color":"#440154"},{"offset":0.11,"color":"#482878"},{"offset":0.22,"color":"#3e4989"},{"offset":0.33,"color":"#31688e"},{"offset":0.44,"color":"#26828e"},{"offset":0.56,"color":"#1f9e89"},{"offset":0.67,"color":"#35b779"},{"offset":0.78,"color":"#6ece58"},{"offset":0.89,"color":"#b5de2b"},{"offset":1,"color":"#fde725"}]}},"encoding":{"y":{"field":"a","type":"quantitative","scale":{"type":"log","domain":[10,537],"nice":false},"axis":{"orient":"right","values":[10,20,30,40,50,60,70,80,90,100,200,300,400,500],"labelExpr":"datum.value==10?'10¹':datum.value==100?'10²':''","labelFontSize":24,"tickSize":{"condition":{"test":"datum.value==10||datum.value==100","value":8},"value":6},"title":"number of galaxies","titleAngle":90,"titlePadding":-4,"titleY":385}},"y2":{"field":"b"}}}
],"spacing":39}
